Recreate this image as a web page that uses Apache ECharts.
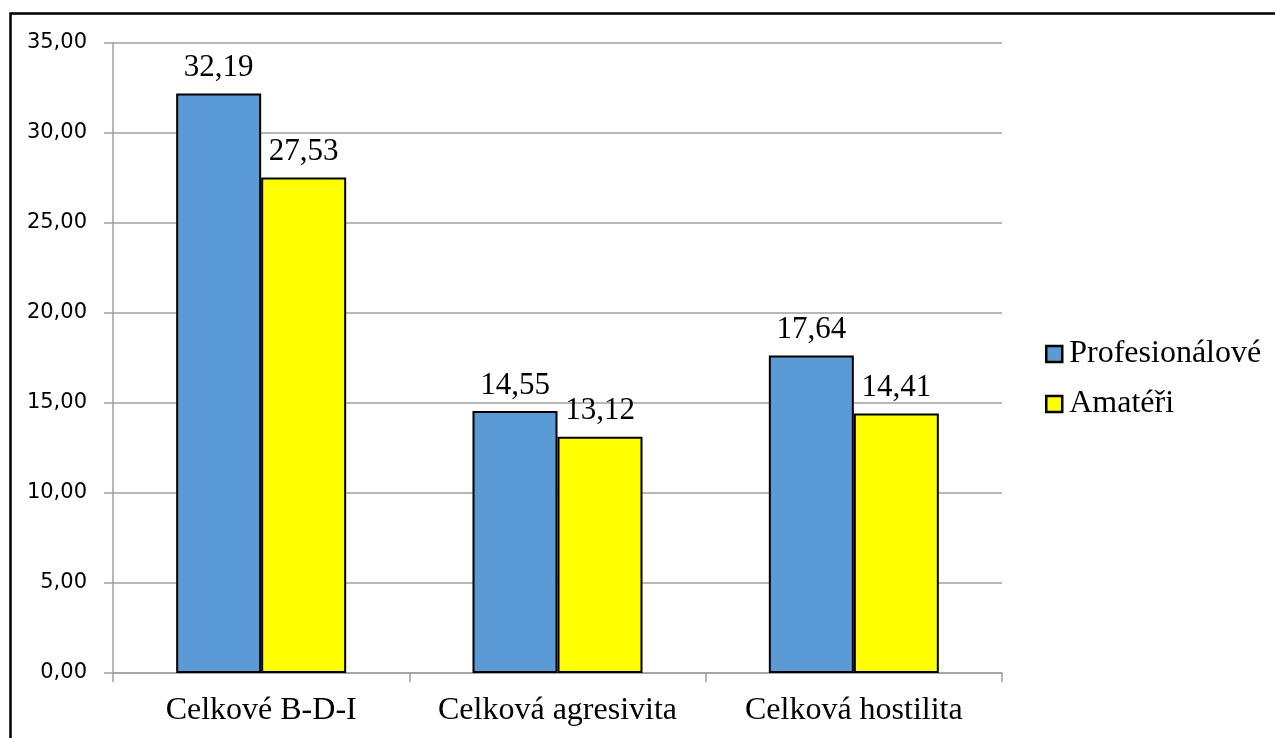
<!DOCTYPE html>
<html>
<head>
<meta charset="utf-8">
<script src="https://cdn.jsdelivr.net/npm/echarts@6/dist/echarts.min.js"></script>
<style>
  html, body { margin: 0; padding: 0; background: #fff; }
  #chart { width: 1275px; height: 738px; }
</style>
</head>
<body>
<div id="chart"></div>
<script>
// Group labels along the x axis
const categories = ['Celkové B-D-I', 'Celková agresivita', 'Celková hostilita'];
// Mean scores per group
const profesionalove = [32.19, 14.55, 17.64];
const amateri = [27.53, 13.12, 14.41];
// Y axis ticks
const yTicks = [0, 5, 10, 15, 20, 25, 30, 35];

const fmt = v => v.toFixed(2).replace('.', ',');
const serif = '"Liberation Serif", "Times New Roman", serif';
const sans = '"DejaVu Sans", Verdana, sans-serif';

const chart = echarts.init(document.getElementById('chart'), null, { renderer: 'canvas' });

const barLabel = {
  show: true,
  position: 'top',
  distance: 10,
  fontFamily: serif,
  fontSize: 31,
  color: '#000',
  formatter: p => fmt(p.value)
};

chart.setOption({
  animation: false,
  backgroundColor: '#fff',
  graphic: [{
    type: 'rect',
    shape: { x: 10.5, y: 13.5, width: 1400, height: 900 },
    style: { fill: 'none', stroke: '#000', lineWidth: 2.5 },
    silent: true
  }],
  legend: {
    orient: 'vertical',
    left: 1045,
    top: 338,
    padding: 0,
    itemWidth: 16,
    itemHeight: 16,
    itemGap: 18,
    icon: 'rect',
    textStyle: { fontFamily: serif, fontSize: 32, color: '#000', padding: [0, 0, 0, 2] },
    itemStyle: { borderColor: '#000', borderWidth: 2.5 },
    data: ['Profesionálové', 'Amatéři']
  },
  grid: { left: 113, right: 273, top: 43, bottom: 65, containLabel: false },
  xAxis: {
    type: 'category',
    data: categories,
    axisLine: { lineStyle: { color: '#a0a0a0', width: 1.5 } },
    axisTick: { show: true, interval: 0, length: 9, lineStyle: { color: '#a0a0a0', width: 1.5 } },
    axisLabel: { interval: 0, hideOverlap: false, margin: 22, fontFamily: serif, fontSize: 32, color: '#000' },
    splitLine: { show: false }
  },
  yAxis: {
    type: 'value',
    min: yTicks[0],
    max: yTicks[yTicks.length - 1],
    interval: 5,
    axisLine: { show: true, lineStyle: { color: '#a0a0a0', width: 1.5 } },
    axisTick: { show: true, length: 9, lineStyle: { color: '#a0a0a0', width: 1.5 } },
    axisLabel: { margin: 26, fontFamily: sans, fontSize: 21, color: '#000', formatter: v => fmt(v) },
    splitLine: { show: true, lineStyle: { color: '#a0a0a0', width: 1.5 } }
  },
  series: [
    {
      name: 'Profesionálové',
      type: 'bar',
      data: profesionalove,
      barWidth: 85,
      barGap: '0%',
      itemStyle: { color: '#5B9BD5', borderColor: '#000', borderWidth: 2 },
      label: barLabel
    },
    {
      name: 'Amatéři',
      type: 'bar',
      data: amateri,
      barWidth: 85,
      barGap: '0%',
      itemStyle: { color: '#FFFF00', borderColor: '#000', borderWidth: 2 },
      label: barLabel
    }
  ]
});
</script>
</body>
</html>
